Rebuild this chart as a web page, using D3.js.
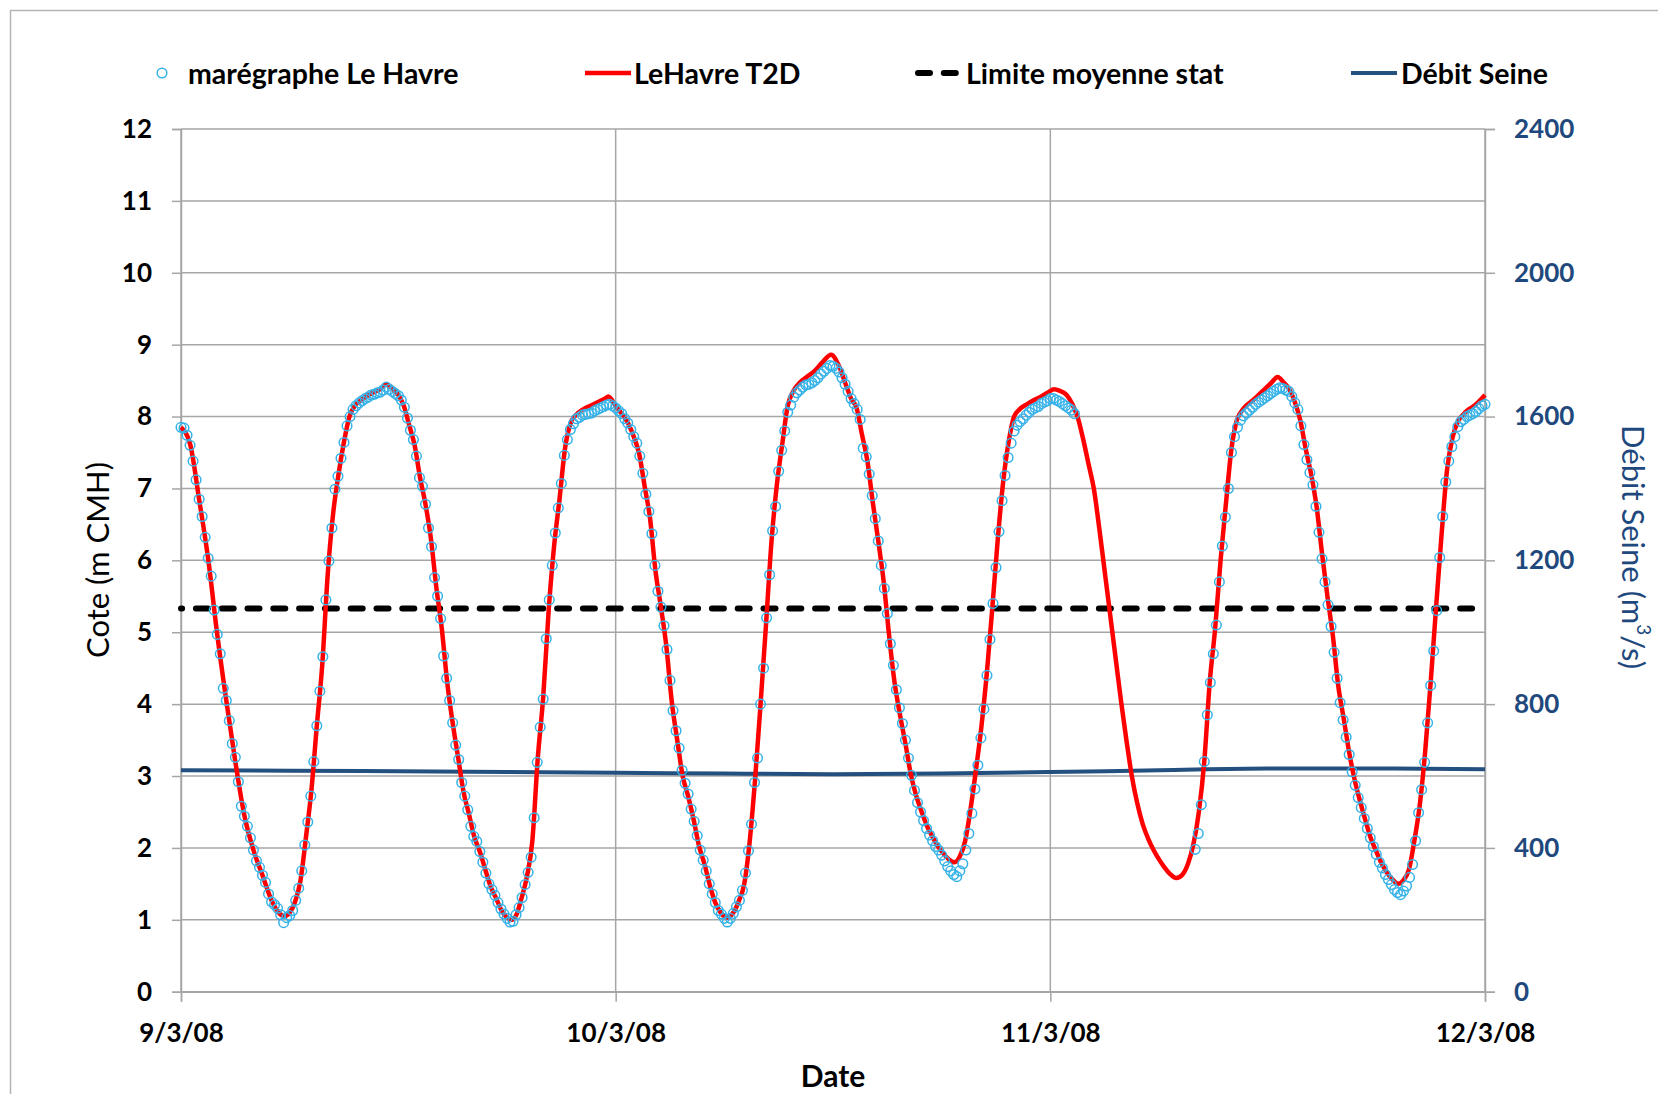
<!DOCTYPE html>
<html>
<head>
<meta charset="utf-8">
<script src="https://cdn.jsdelivr.net/npm/d3@7"></script>
<style>
  body { margin: 0; background: #fff; }
  svg { display: block; font-family: Lato, "Open Sans", sans-serif; }
</style>
</head>
<body>
<svg id="chart" width="1658" height="1094"></svg>
<script>
// observed tide gauge (m CMH), one value every 10 min
var obsDay1 = [
  7.85, 7.84, 7.74, 7.60, 7.38, 7.12,
  6.85, 6.61, 6.32, 6.03, 5.78, 5.31,
  4.97, 4.70, 4.22, 4.05, 3.77, 3.45,
  3.26, 2.92, 2.58, 2.44, 2.30, 2.14,
  1.97, 1.82, 1.73, 1.62, 1.52, 1.36,
  1.25, 1.21, 1.16, 1.07, 0.96, 1.03,
  1.06, 1.13, 1.27, 1.44, 1.68, 2.04,
  2.36, 2.72, 3.20, 3.70, 4.18, 4.66,
  5.45, 5.99, 6.45, 6.99, 7.17, 7.42,
  7.64, 7.87, 8.00, 8.10, 8.15, 8.19,
  8.22, 8.25, 8.27, 8.30, 8.31, 8.33,
  8.34, 8.37, 8.41, 8.38, 8.35, 8.32,
  8.29, 8.23, 8.13, 7.98, 7.81, 7.68,
  7.45, 7.15, 7.03, 6.78, 6.45, 6.19,
  5.76, 5.50, 5.19, 4.67, 4.36, 4.05,
  3.74, 3.43, 3.23, 2.91, 2.72, 2.53,
  2.30, 2.16, 2.09, 1.95, 1.80, 1.65,
  1.50, 1.42, 1.34, 1.24, 1.15, 1.08,
  1.02, 0.97, 0.98, 1.07, 1.17, 1.31,
  1.49, 1.66, 1.87, 2.42, 3.19, 3.68,
  4.07, 4.91, 5.45, 5.93, 6.38, 6.73,
  7.07, 7.46, 7.68, 7.82, 7.90, 7.97,
  7.99, 8.02, 8.03, 8.04, 8.05, 8.08,
  8.10, 8.12, 8.14, 8.16, 8.17, 8.15
];
var obsDay2 = [
  8.12, 8.08, 8.04, 7.97, 7.91, 7.82,
  7.72, 7.63, 7.45, 7.21, 6.92, 6.68,
  6.37, 5.93, 5.57, 5.35, 5.09, 4.76,
  4.33, 3.91, 3.63, 3.39, 3.08, 2.90,
  2.75, 2.54, 2.37, 2.17, 1.97, 1.83,
  1.68, 1.50, 1.36, 1.24, 1.13, 1.08,
  1.02, 0.97, 1.02, 1.09, 1.18, 1.27,
  1.41, 1.65, 1.96, 2.33, 2.91, 3.25,
  4.00, 4.50, 5.20, 5.80, 6.41, 6.75,
  7.24, 7.53, 7.80, 8.06, 8.16, 8.27,
  8.33, 8.37, 8.41, 8.44, 8.45, 8.47,
  8.50, 8.54, 8.59, 8.63, 8.67, 8.71,
  8.70, 8.67, 8.62, 8.54, 8.45, 8.35,
  8.25, 8.18, 8.10, 7.96, 7.56, 7.44,
  7.20, 6.90, 6.58, 6.27, 5.93, 5.61,
  5.26, 4.84, 4.54, 4.20, 3.95, 3.73,
  3.50, 3.25, 3.01, 2.80, 2.63, 2.50,
  2.38, 2.27, 2.18, 2.10, 2.02, 1.97,
  1.90, 1.82, 1.74, 1.68, 1.63, 1.60,
  1.68, 1.78, 1.97, 2.20, 2.48, 2.82,
  3.15, 3.53, 3.93, 4.40, 4.90, 5.40,
  5.90, 6.40, 6.83, 7.18, 7.43, 7.63,
  7.80, 7.88, 7.93, 7.97, 8.02, 8.06,
  8.10, 8.12, 8.14, 8.18, 8.20, 8.22
];
// day 3 has a gap in the gauge record (49h30 -> 56h)
var obsDay3a = [
  8.25, 8.25, 8.23, 8.21, 8.18, 8.15,
  8.12, 8.09, 8.04
];
var obsDay3b = [
  1.98, 2.20, 2.60, 3.20, 3.85, 4.30,
  4.70, 5.10, 5.70, 6.20, 6.60, 7.00,
  7.50, 7.72, 7.85, 7.95, 8.01, 8.05,
  8.09, 8.13, 8.17, 8.20, 8.23, 8.26,
  8.29, 8.32, 8.35, 8.38, 8.40, 8.39,
  8.37, 8.35, 8.28, 8.19, 8.10, 7.87,
  7.61, 7.40, 7.22, 7.05, 6.75, 6.39,
  6.02, 5.70, 5.38, 5.08, 4.72, 4.36,
  4.02, 3.78, 3.54, 3.30, 3.06, 2.87,
  2.70, 2.56, 2.41, 2.27, 2.14, 2.02,
  1.91, 1.80, 1.72, 1.63, 1.56, 1.49,
  1.42, 1.38, 1.35, 1.40, 1.47, 1.59,
  1.77, 2.10, 2.49, 2.81, 3.19, 3.74,
  4.26, 4.74, 5.30, 6.04, 6.61, 7.09,
  7.38, 7.58, 7.72, 7.86, 7.93, 7.96,
  8.00, 8.02, 8.04, 8.07, 8.11, 8.15,
  8.17
];
var obsStarts = [0, 24, 48, 56]; // hours

// model LeHavre T2D : [hour, level]
var t2d = [
  [0,7.85],[0.5,7.62],[1,6.85],[1.5,6.02],[2,4.97],[2.5,4.05],[3,3.2],[3.5,2.45],[4,1.97],[4.5,1.62],
  [5,1.27],[5.4,1.1],[5.7,1.05],[6,1.1],[6.3,1.25],[6.6,1.55],[6.9,2.15],[7.2,2.8],[7.5,3.7],[7.8,4.55],
  [8.1,5.8],[8.4,6.65],[8.7,7.2],[9,7.65],[9.3,8],[9.6,8.15],[10,8.24],[10.5,8.32],[11,8.38],[11.35,8.45],
  [11.7,8.38],[12,8.3],[12.3,8.15],[12.6,7.88],[12.9,7.6],[13.2,7.15],[13.5,6.78],[13.8,6.3],[14.1,5.62],[14.4,5.05],
  [14.7,4.3],[15,3.74],[15.3,3.26],[15.6,2.78],[15.9,2.47],[16.2,2.15],[16.5,1.95],[16.8,1.7],[17.1,1.46],[17.4,1.3],
  [17.7,1.13],[18,1.03],[18.25,1],[18.5,1.06],[18.8,1.3],[19.1,1.6],[19.4,2.1],[19.7,3.25],[20,4.1],[20.3,5.3],
  [20.6,6.2],[20.9,6.85],[21.2,7.55],[21.5,7.9],[21.8,8.02],[22.2,8.1],[22.6,8.15],[23,8.2],[23.4,8.25],[23.6,8.28],
  [24,8.15],[24.3,8.05],[24.7,7.9],[25,7.72],[25.3,7.48],[25.6,7.03],[25.9,6.58],[26.2,5.85],[26.5,5.35],[26.8,4.8],
  [27.1,4.03],[27.4,3.5],[27.7,3],[28,2.72],[28.3,2.4],[28.6,2.03],[28.9,1.78],[29.2,1.48],[29.5,1.24],[29.8,1.1],
  [30.15,1.03],[30.5,1.1],[30.8,1.26],[31.1,1.5],[31.4,2.09],[31.7,2.96],[32,4],[32.3,5.1],[32.6,6.25],[32.9,7.05],
  [33.2,7.62],[33.5,8.15],[33.8,8.35],[34.2,8.48],[34.6,8.56],[35,8.64],[35.4,8.75],[35.9,8.86],[36.3,8.72],[36.7,8.45],
  [37,8.25],[37.3,8.12],[37.6,7.75],[37.9,7.38],[38.2,6.8],[38.5,6.27],[38.8,5.7],[39.1,4.95],[39.4,4.3],[39.7,3.85],
  [40,3.45],[40.3,3.02],[40.6,2.72],[40.9,2.5],[41.2,2.3],[41.5,2.15],[41.8,2.02],[42.1,1.92],[42.4,1.84],[42.7,1.8],
  [43,1.88],[43.3,2.1],[43.6,2.55],[43.9,3.1],[44.2,3.7],[44.5,4.45],[44.8,5.35],[45.1,6.3],[45.4,7.1],[45.7,7.65],
  [46,8],[46.3,8.1],[46.7,8.17],[47.1,8.23],[47.5,8.28],[47.9,8.34],[48.2,8.38],[48.5,8.36],[48.9,8.3],[49.2,8.18],
  [49.5,8],[49.8,7.7],[50.1,7.35],[50.4,7],[50.7,6.45],[51,5.85],[51.3,5.25],[51.6,4.65],[51.9,4.05],[52.2,3.5],
  [52.5,3],[52.8,2.62],[53.1,2.33],[53.4,2.13],[53.7,1.97],[54,1.84],[54.3,1.73],[54.6,1.64],[54.95,1.58],[55.3,1.63],
  [55.6,1.78],[55.9,2.05],[56.2,2.5],[56.5,3.2],[56.8,4.3],[57.1,5.05],[57.4,6],[57.7,6.8],[58,7.55],[58.3,7.95],
  [58.7,8.12],[59.2,8.23],[59.7,8.35],[60.2,8.47],[60.55,8.55],[60.9,8.47],[61.2,8.38],[61.5,8.2],[61.8,7.95],[62.1,7.55],
  [62.4,7.2],[62.7,6.75],[63,6.1],[63.3,5.5],[63.6,4.95],[63.9,4.25],[64.2,3.8],[64.5,3.33],[64.8,2.95],[65.1,2.65],
  [65.4,2.38],[65.7,2.13],[66,1.95],[66.3,1.78],[66.6,1.65],[66.9,1.56],[67.2,1.5],[67.5,1.55],[67.8,1.7],[68.1,2.1],
  [68.4,2.6],[68.7,3.35],[69,4.3],[69.3,5.35],[69.6,6.35],[69.9,7.25],[70.2,7.7],[70.5,7.93],[70.8,8.03],[71.1,8.1],
  [71.4,8.15],[71.7,8.22],[72,8.3]
];

// Seine discharge (m3/s), every 6 h
var debitHours = [0, 6, 12, 18, 24, 30, 36, 42, 48, 54, 60, 66, 72];
var debitValues = [616, 615, 613, 611, 609, 607, 605, 607, 611, 616, 621, 621, 619];

var limiteMoyenne = 5.33;

var leftTicks = d3.range(0, 13);
var rightTicks = [0, 400, 800, 1200, 1600, 2000, 2400];
var legendLabels = ["marégraphe Le Havre", "LeHavre T2D", "Limite moyenne stat", "Débit Seine"];

//////////// SETUP ////////////
var svg = d3.select("#chart");
var plot = {left: 181, right: 1485, top: 129, bottom: 991.7};
var t0 = Date.UTC(2008, 2, 9);
var HOUR = 3600e3;
var gridColor = "#a6a6a6";
var blueText = "#1f497d";
var obsColor = "#36b2e8";

var x = d3.scaleUtc()
  .domain([new Date(t0), new Date(t0 + 72 * HOUR)])
  .range([plot.left, plot.right]);
var y = d3.scaleLinear().domain([0, 12]).range([plot.bottom, plot.top]);
var y2 = d3.scaleLinear().domain([0, 2400]).range([plot.bottom, plot.top]);
var xh = function(h) { return x(new Date(t0 + h * HOUR)); };

// chart frame
svg.append("path")
  .attr("d", "M10.5,1094V10.5H1658")
  .attr("fill", "none").attr("stroke", "#b4b4b4").attr("stroke-width", 1.5);

// gridlines
svg.append("g").selectAll("line").data(leftTicks).enter().append("line")
  .attr("x1", plot.left).attr("x2", plot.right)
  .attr("y1", function(d) { return y(d); }).attr("y2", function(d) { return y(d); })
  .attr("stroke", gridColor).attr("stroke-width", 1.5);
svg.append("g").selectAll("line").data(x.ticks(d3.utcDay.every(1))).enter().append("line")
  .attr("x1", function(d) { return x(d); }).attr("x2", function(d) { return x(d); })
  .attr("y1", plot.top).attr("y2", plot.bottom)
  .attr("stroke", gridColor).attr("stroke-width", 1.5);

// axes
var axL = svg.append("g").attr("transform", "translate(" + plot.left + ",0)")
  .call(d3.axisLeft(y).tickValues(leftTicks).tickSize(9).tickPadding(20).tickFormat(d3.format("d")));
var axR = svg.append("g").attr("transform", "translate(" + plot.right + ",0)")
  .call(d3.axisRight(y2).tickValues(rightTicks).tickSize(10).tickPadding(19).tickFormat(d3.format("d")));
var axB = svg.append("g").attr("transform", "translate(0," + plot.bottom + ")")
  .call(d3.axisBottom(x).ticks(d3.utcDay.every(1)).tickSize(10).tickPadding(22)
    .tickFormat(d3.utcFormat("%-d/%-m/%y")));

[axL, axR, axB].forEach(function(ax) {
  ax.select(".domain").attr("stroke", gridColor).attr("stroke-width", 1.5);
  ax.selectAll(".tick line").attr("stroke", gridColor).attr("stroke-width", 1.5);
  ax.selectAll("text").attr("font-family", "Lato, sans-serif")
    .attr("font-size", 26).attr("font-weight", "bold").attr("fill", "#000");
});
axR.selectAll("text").attr("fill", blueText);

// axis titles
svg.append("text")
  .attr("transform", "translate(97,560) rotate(-90)")
  .attr("text-anchor", "middle").attr("dominant-baseline", "central")
  .attr("font-size", 31).attr("fill", "#000")
  .text("Cote (m CMH)");

var rt = svg.append("text")
  .attr("transform", "translate(1634,547) rotate(90)")
  .attr("text-anchor", "middle").attr("dominant-baseline", "central")
  .attr("font-size", 31).attr("fill", blueText);
rt.append("tspan").text("Débit Seine (m");
rt.append("tspan").attr("font-size", 19).attr("dy", -11).text("3");
rt.append("tspan").attr("dy", 11).text("/s)");

svg.append("text")
  .attr("x", 833).attr("y", 1087)
  .attr("text-anchor", "middle")
  .attr("font-size", 30).attr("font-weight", "bold")
  .text("Date");

//////////// SERIES ////////////
var debit = debitHours.map(function(h, i) { return {h: h, v: debitValues[i]}; });
svg.append("path").datum(debit)
  .attr("fill", "none").attr("stroke", "#24507f").attr("stroke-width", 4)
  .attr("d", d3.line().curve(d3.curveMonotoneX)
    .x(function(d) { return xh(d.h); })
    .y(function(d) { return y2(d.v); }));

svg.append("line")
  .attr("x1", plot.left).attr("x2", plot.right)
  .attr("y1", y(limiteMoyenne)).attr("y2", y(limiteMoyenne))
  .attr("stroke", "#000").attr("stroke-width", 6)
  .attr("stroke-linecap", "round")
  .attr("stroke-dasharray", "12 13.8").attr("stroke-dashoffset", 10.9);

svg.append("path").datum(t2d)
  .attr("fill", "none").attr("stroke", "#ff0000").attr("stroke-width", 4.5)
  .attr("stroke-linejoin", "round")
  .attr("d", d3.line().curve(d3.curveMonotoneX)
    .x(function(d) { return xh(d[0]); })
    .y(function(d) { return y(d[1]); }));

var obs = [];
[obsDay1, obsDay2, obsDay3a, obsDay3b].forEach(function(arr, k) {
  arr.forEach(function(v, i) { obs.push({h: obsStarts[k] + i / 6, v: v}); });
});
svg.append("g").selectAll("circle").data(obs).enter().append("circle")
  .attr("cx", function(d) { return xh(d.h); })
  .attr("cy", function(d) { return y(d.v); })
  .attr("r", 4.8)
  .attr("fill", "none").attr("stroke", obsColor).attr("stroke-width", 1.5);

//////////// LEGEND ////////////
var ly = 73;
var lg = svg.append("g").attr("font-size", 28.5).attr("font-weight", "bold");
lg.append("circle").attr("cx", 162).attr("cy", ly).attr("r", 4.8)
  .attr("fill", "none").attr("stroke", obsColor).attr("stroke-width", 1.5);
lg.append("line").attr("x1", 585).attr("x2", 631).attr("y1", ly).attr("y2", ly)
  .attr("stroke", "#ff0000").attr("stroke-width", 4.5);
lg.append("line").attr("x1", 918).attr("x2", 960).attr("y1", ly).attr("y2", ly)
  .attr("stroke", "#000").attr("stroke-width", 6).attr("stroke-linecap", "round")
  .attr("stroke-dasharray", "12 13.8");
lg.append("line").attr("x1", 1351).attr("x2", 1397).attr("y1", ly).attr("y2", ly)
  .attr("stroke", "#24507f").attr("stroke-width", 4);
var legendX = [188, 634, 966, 1401];
lg.selectAll("text").data(legendLabels).enter().append("text")
  .attr("x", function(d, i) { return legendX[i]; })
  .attr("y", ly).attr("dominant-baseline", "central")
  .text(function(d) { return d; });
</script>
</body>
</html>
